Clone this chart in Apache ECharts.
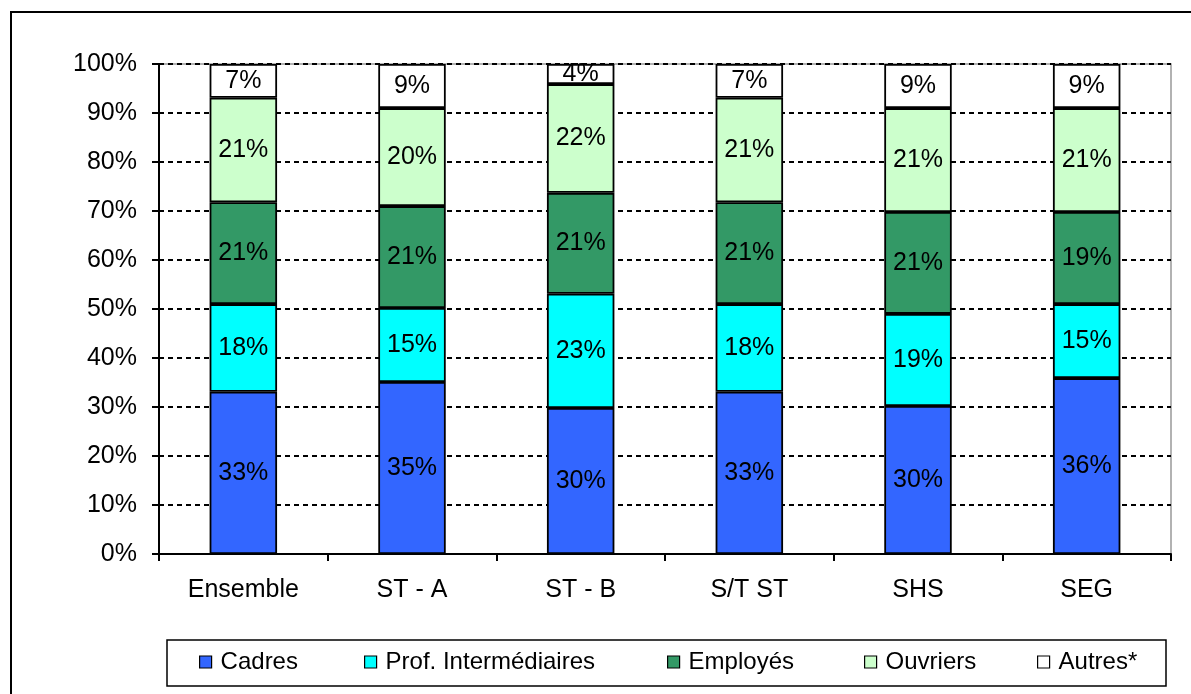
<!DOCTYPE html>
<html>
<head>
<meta charset="utf-8">
<script src="https://cdn.jsdelivr.net/npm/echarts@6/dist/echarts.min.js"></script>
<style>
  html, body { margin: 0; padding: 0; background: #fff; }
  #main { width: 1191px; height: 694px; }
</style>
</head>
<body>
<div id="main"></div>
<script>
// catégories et parts (%)
const categories = ["Ensemble", "ST - A", "ST - B", "S/T ST", "SHS", "SEG"];
const cadres = [33.1, 35.1, 29.8, 33.1, 30.2, 35.9];
const profInter = [17.9, 15.1, 23.3, 17.9, 18.8, 15.1];
const employes = [20.8, 20.8, 20.6, 20.8, 20.8, 18.8];
const ouvriers = [21.3, 20.0, 22.2, 21.3, 21.2, 21.2];
const autres = [6.9, 9.0, 4.1, 6.9, 9.0, 9.0];
const yTicks = [0, 10, 20, 30, 40, 50, 60, 70, 80, 90, 100];

const names = ["Cadres", "Prof. Intermédiaires", "Employés", "Ouvriers", "Autres*"];
const colors = ["#3366FF", "#00FFFF", "#339966", "#CCFFCC", "#FFFFFF"];
const values = [cadres, profInter, employes, ouvriers, autres];
const legendX = [199, 364, 667, 864, 1037];

const font = "Liberation Sans, Arial, sans-serif";

var myChart = echarts.init(document.getElementById("main"));

myChart.setOption({
  animation: false,
  textStyle: { fontFamily: font },
  grid: {
    left: 159,
    right: 20,
    top: 64,
    bottom: 140,
    show: true,
    borderColor: "#999999",
    borderWidth: 1.5,
  },
  // une légende par entrée pour placer chaque élément
  legend: names.map((n, i) => ({
    data: [n],
    left: legendX[i],
    top: 650,
    padding: 0,
    icon: "rect",
    itemWidth: 12,
    itemHeight: 12,
    itemStyle: { borderColor: "#000", borderWidth: 1.2 },
    textStyle: { fontSize: 24, color: "#000", fontFamily: font, padding: [0, 0, 0, 4] },
    selectedMode: false,
  })),
  graphic: [
    {
      type: "rect",
      shape: { x: 11, y: 12, width: 1300, height: 800 },
      style: { fill: "none", stroke: "#000", lineWidth: 2 },
      silent: true,
    },
    {
      type: "rect",
      shape: { x: 167, y: 640, width: 999, height: 46 },
      style: { fill: "none", stroke: "#000", lineWidth: 1.5 },
      silent: true,
    },
  ],
  xAxis: {
    type: "category",
    data: categories,
    axisLine: { lineStyle: { color: "#000", width: 2 } },
    axisTick: { show: true, length: 7, lineStyle: { color: "#000", width: 2 } },
    axisLabel: { color: "#000", fontSize: 25, margin: 24, fontFamily: font },
  },
  yAxis: {
    type: "value",
    min: yTicks[0],
    max: yTicks[yTicks.length - 1],
    interval: 10,
    axisLine: { show: true, lineStyle: { color: "#000", width: 2 } },
    axisTick: { show: true, length: 7, lineStyle: { color: "#000", width: 2 } },
    axisLabel: { color: "#000", fontSize: 25, margin: 22, formatter: "{value}%", fontFamily: font },
    splitLine: { lineStyle: { color: "#000", width: 2, type: [5, 4] } },
  },
  series: names.map((n, i) => ({
    name: n,
    type: "bar",
    stack: "total",
    barWidth: "40%",
    data: values[i],
    itemStyle: { color: colors[i], borderColor: "#000", borderWidth: 1.8 },
    label: {
      show: true,
      position: "inside",
      color: "#000",
      fontSize: 25,
      fontFamily: font,
      formatter: (p) => Math.round(p.value) + "%",
    },
  })),
});
</script>
</body>
</html>
